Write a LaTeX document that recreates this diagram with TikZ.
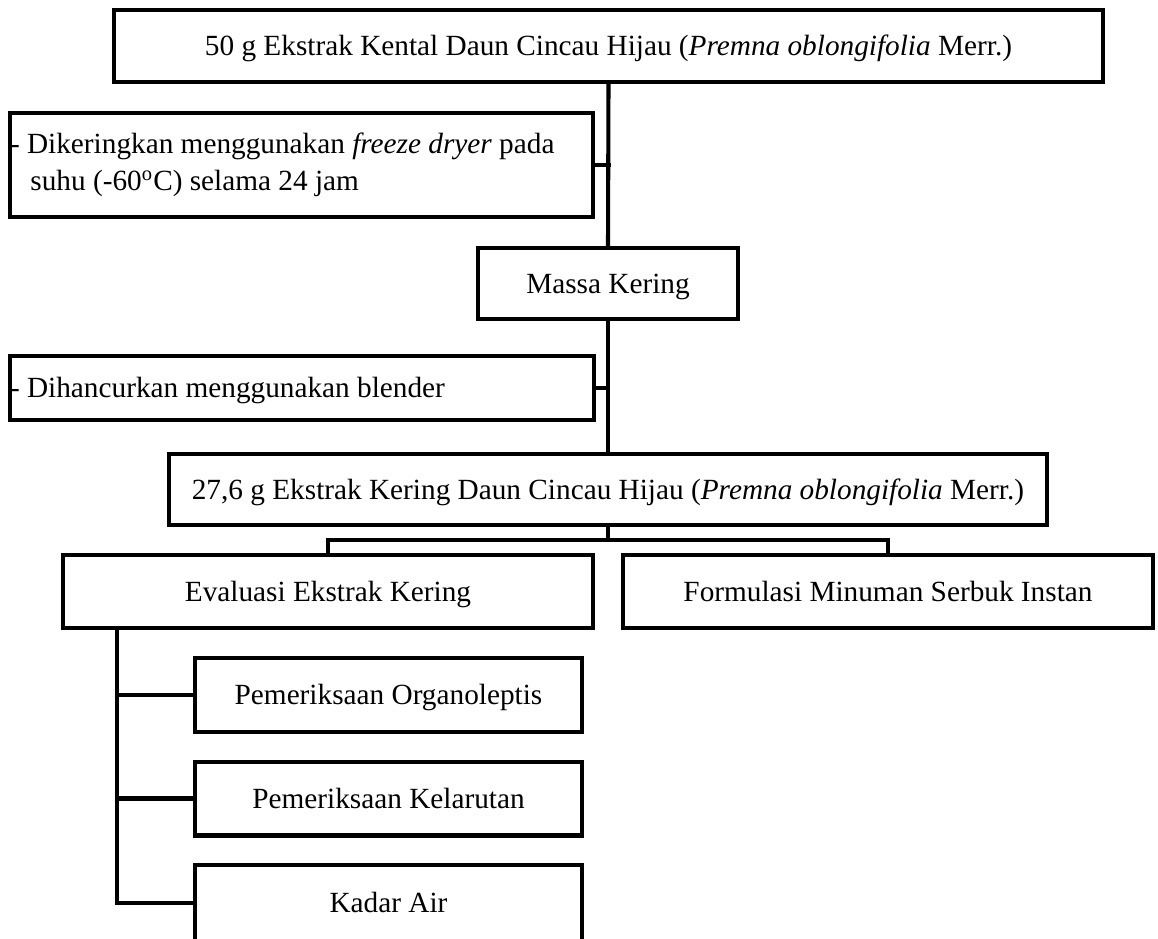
\documentclass[tikz,border=0pt]{standalone}
\usepackage{fontspec}
\setmainfont{Liberation Serif}
\usepackage{tikz}
\usetikzlibrary{positioning,calc}
\tikzset{
    baseBox/.style={ % width in pixels of the sketch
    ,   draw=black
    ,   line width=1.7pt
    ,   rectangle
    ,   fill=white
    ,   inner sep=0pt
    ,   minimum width={#1*0.4167pt}
    ,   minimum height=30pt
    },
    procBox/.style={ % one line, centred
    ,   baseBox=#1
    ,   text height=8pt
    ,   text depth=0pt
    ,   align=center
    },
    noteBox/.style={ % text flush left, dash sits on the frame
    ,   baseBox=#1
    ,   text width={#1*0.4167pt}
    ,   align=flush left
    },
    linkLine/.style={
    ,   draw=black
    ,   line width=1.7pt
    ,   line cap=rect
    },
}

\begin{document}
\begin{tikzpicture}[x=0.4167pt, y=-0.4167pt, font={\fontsize{12.2pt}{15.4pt}\selectfont}]
	\useasboundingbox (0,0) rectangle (1158,938);

	% main line
	\node[procBox=989] (top) at (608.5,46) {50 g Ekstrak Kental Daun Cincau Hijau (\textit{Premna oblongifolia} Merr.)};
	\node[noteBox=583, minimum height=43.3pt] (dry) at (301.5,165) {- Dikeringkan menggunakan \textit{freeze dryer} pada\\\hspace*{8.5pt}suhu (-60\textsuperscript{o}C) selama 24 jam};
	\node[procBox=260, minimum height=29.6pt] (massa) at (608,283.5) {Massa Kering};
	\node[noteBox=584, minimum height=26.7pt, text height=8pt, text depth=0pt] (blend) at (302,388) {- Dihancurkan menggunakan blender};
	\node[procBox=878, minimum height=29.6pt] (dryExt) at (608,489.5) {27,6 g Ekstrak Kering Daun Cincau Hijau (\textit{Premna oblongifolia} Merr.)};

	\draw[linkLine] (top.south) -- (massa.north);
	\draw[linkLine] (massa.south) -- (dryExt.north);
	\draw[linkLine] (dry.east) -- (dry.east -| top.south);
	\draw[linkLine] (blend.east) -- (blend.east -| massa.south);

	% split into two branches
	\node[procBox=530, minimum height=30.4pt] (eval) at (328,591.5) {Evaluasi Ekstrak Kering};
	\node[procBox=530, minimum height=30.4pt] (form) at (888,591.5) {Formulasi Minuman Serbuk Instan};
	\coordinate (split) at (608,540);
	\draw[linkLine] (dryExt.south) -- (split);
	\draw[linkLine] (eval.north) |- (split) -| (form.north);

	% tests on the dry extract
	\node[procBox=387, minimum height=30.8pt] (organo) at (388.5,695) {Pemeriksaan Organoleptis};
	\node[procBox=387, minimum height=30.8pt] (larut) at (388.5,798.5) {Pemeriksaan Kelarutan};
	\node[procBox=387, minimum height=31.7pt] (water) at (388.5,903) {Kadar Air};
	\coordinate (trunk) at (117,628);
	\draw[linkLine] (trunk) |- (water.west);
	\draw[linkLine] (trunk |- organo.west) -- (organo.west);
	\draw[linkLine] (trunk |- larut.west) -- (larut.west);
\end{tikzpicture}
\end{document}
